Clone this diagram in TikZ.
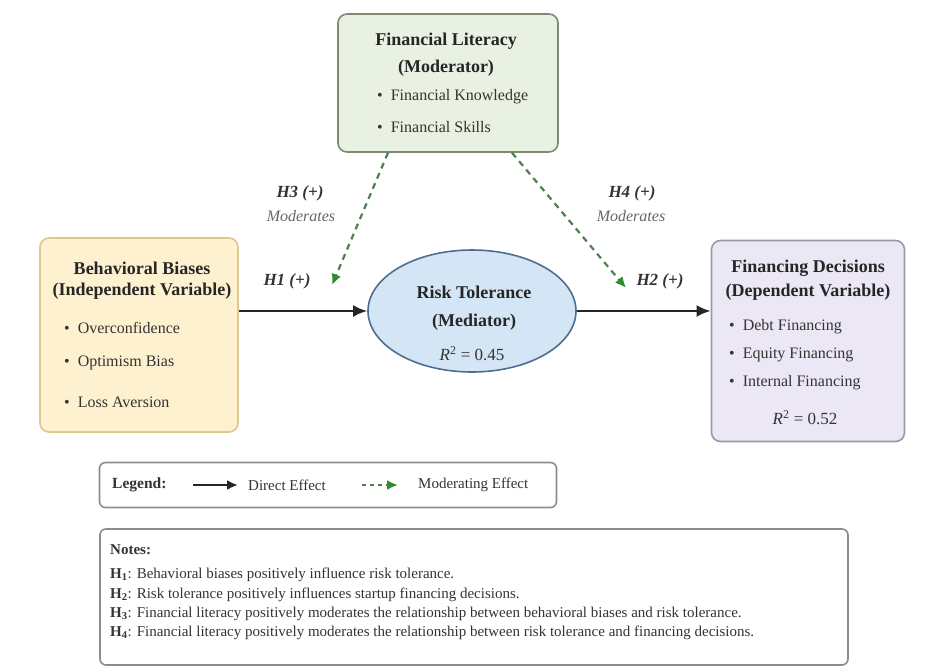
\documentclass[tikz,border=0pt]{standalone}
\usepackage{fontspec}
\setmainfont{Liberation Serif}
\usetikzlibrary{shapes.geometric,arrows.meta,calc}

\definecolor{litfill}{HTML}{E9F1E2}
\definecolor{litline}{HTML}{7D8A74}
\definecolor{biasfill}{HTML}{FDF1D0}
\definecolor{biasline}{HTML}{E0C78E}
\definecolor{riskfill}{HTML}{D4E6F5}
\definecolor{riskline}{HTML}{4F6E8F}
\definecolor{finfill}{HTML}{ECE7F4}
\definecolor{finline}{HTML}{9A98A8}
\definecolor{modgreen}{HTML}{4F7F4F}
\definecolor{tipgreen}{HTML}{2E8B2E}
\definecolor{keyline}{HTML}{8C8C8C}

\tikzset{
  box/.style={draw, rounded corners=9pt, line width=1.6pt, inner sep=0pt},
  title/.style={font=\fontsize{18}{22}\selectfont\bfseries, text=black!85},
  item/.style={font=\fontsize{16}{19}\selectfont, text=black!80, anchor=west, inner sep=0pt},
  hyp/.style={font=\fontsize{17}{20}\selectfont\bfseries\itshape, text=black!80},
  modlabel/.style={font=\fontsize{16}{19}\selectfont\itshape, text=black!60},
  keytext/.style={font=\fontsize{15}{18}\selectfont, text=black!80, anchor=west, inner sep=0pt},
  note/.style={font=\fontsize{15}{18}\selectfont, text=black!80, anchor=west, inner sep=0pt},
  direct/.style={-{Latex[length=14pt,width=12pt]}, line width=2.6pt, black!85},
  moder/.style={-{Latex[length=11pt,width=10pt,color=tipgreen]}, dash pattern=on 6pt off 5pt, line width=2.2pt, modgreen}
}

\begin{document}
\begin{tikzpicture}[x=1pt,y=-1pt]
\useasboundingbox (0,0) rectangle (928,667);

% moderator
\node(lit) at (448,83)[box,fill=litfill,draw=litline,minimum width=220pt,minimum height=138pt]{};
\node(littitle) at (446,41)[title]{Financial Literacy};
\node(litsub) at (446,68)[title]{(Moderator)};
\node(lit1) at (377,97)[item]{\textbullet\ \ Financial Knowledge};
\node(lit2) at (377,127)[item]{\textbullet\ \ Financial Skills};

% independent
\node(bias) at (139,335)[box,fill=biasfill,draw=biasline,minimum width=198pt,minimum height=194pt]{};
\node(biastitle) at (142,268)[title]{Behavioral Biases};
\node(biassub) at (142,291)[title]{(Independent Variable)};
\node(bias1) at (64,328)[item]{\textbullet\ \ Overconfidence};
\node(bias2) at (64,363)[item]{\textbullet\ \ Optimism Bias};
\node(bias3) at (64,402)[item]{\textbullet\ \ Loss Aversion};

% mediator
\node(risk) at (472,311)[shape=ellipse,draw=riskline,fill=riskfill,line width=1.6pt,minimum width=208pt,minimum height=122pt]{};
\node(risktitle) at (474,292)[title]{Risk Tolerance};
\node(risksub) at (474,322)[title]{(Mediator)};
\node(riskr) at (472,354)[font=\fontsize{17}{20}\selectfont,text=black!80]{\textit{R}\textsuperscript{2} = 0.45};

% dependent
\node(fin) at (808,341)[box,fill=finfill,draw=finline,minimum width=193pt,minimum height=201pt]{};
\node(fintitle) at (808,268)[title]{Financing Decisions};
\node(finsub) at (808,292)[title]{(Dependent Variable)};
\node(fin1) at (729,327)[item]{\textbullet\ \ Debt Financing};
\node(fin2) at (729,355)[item]{\textbullet\ \ Equity Financing};
\node(fin3) at (729,383)[item]{\textbullet\ \ Internal Financing};
\node(finr) at (805,418)[font=\fontsize{17}{20}\selectfont,text=black!80]{\textit{R}\textsuperscript{2} = 0.52};

% paths
\coordinate(h3end) at (332,285);
\coordinate(h4end) at (626,288);
\draw[direct] (risk.west -| bias.east) -- (risk.west);
\draw[direct] (risk.east) -- (risk.east -| fin.west);
\draw[moder] ($(lit.south)+(-60,0)$) -- (h3end);
\draw[moder] ($(lit.south)+(64,0)$) -- (h4end);

\node(h1) at (287,281)[hyp]{H1 (+)};
\node(h2) at (660,281)[hyp]{H2 (+)};
\node(h3) at (300,193)[hyp]{H3 (+)};
\node(h3m) at (301,216)[modlabel]{Moderates};
\node(h4) at (632,193)[hyp]{H4 (+)};
\node(h4m) at (631,216)[modlabel]{Moderates};

% legend
\node(legend) at (328,485)[box,draw=keyline,fill=white,rounded corners=6pt,minimum width=457pt,minimum height=45pt]{};
\node(legendlbl) at (112,485)[keytext,font=\fontsize{15.5}{18}\selectfont\bfseries]{Legend:};
\coordinate(keyd1) at (193,485);
\coordinate(keyd2) at (238,485);
\coordinate(keym1) at (362,485);
\coordinate(keym2) at (398,485);
\draw[direct,line width=2.2pt,-{Latex[length=11pt,width=10pt]}] (keyd1) -- (keyd2);
\draw[moder,dash pattern=on 4pt off 4pt] (keym1) -- (keym2);
\node(keydtext) at (248,485)[keytext]{Direct Effect};
\node(keymtext) at (418,485)[keytext]{Moderating Effect};

% notes
\node(notes) at (474,597)[box,draw=keyline,fill=white,rounded corners=6pt,minimum width=748pt,minimum height=136pt]{};
\node(noteshead) at (110,550)[note,font=\fontsize{15}{18}\selectfont\bfseries]{Notes:};
\node(note1) at (110,575)[note]{\textbf{H\textsubscript{1}}: Behavioral biases positively influence risk tolerance.};
\node(note2) at (110,595)[note]{\textbf{H\textsubscript{2}}: Risk tolerance positively influences startup financing decisions.};
\node(note3) at (110,614)[note]{\textbf{H\textsubscript{3}}: Financial literacy positively moderates the relationship between behavioral biases and risk tolerance.};
\node(note4) at (110,633)[note]{\textbf{H\textsubscript{4}}: Financial literacy positively moderates the relationship between risk tolerance and financing decisions.};

\end{tikzpicture}
\end{document}
